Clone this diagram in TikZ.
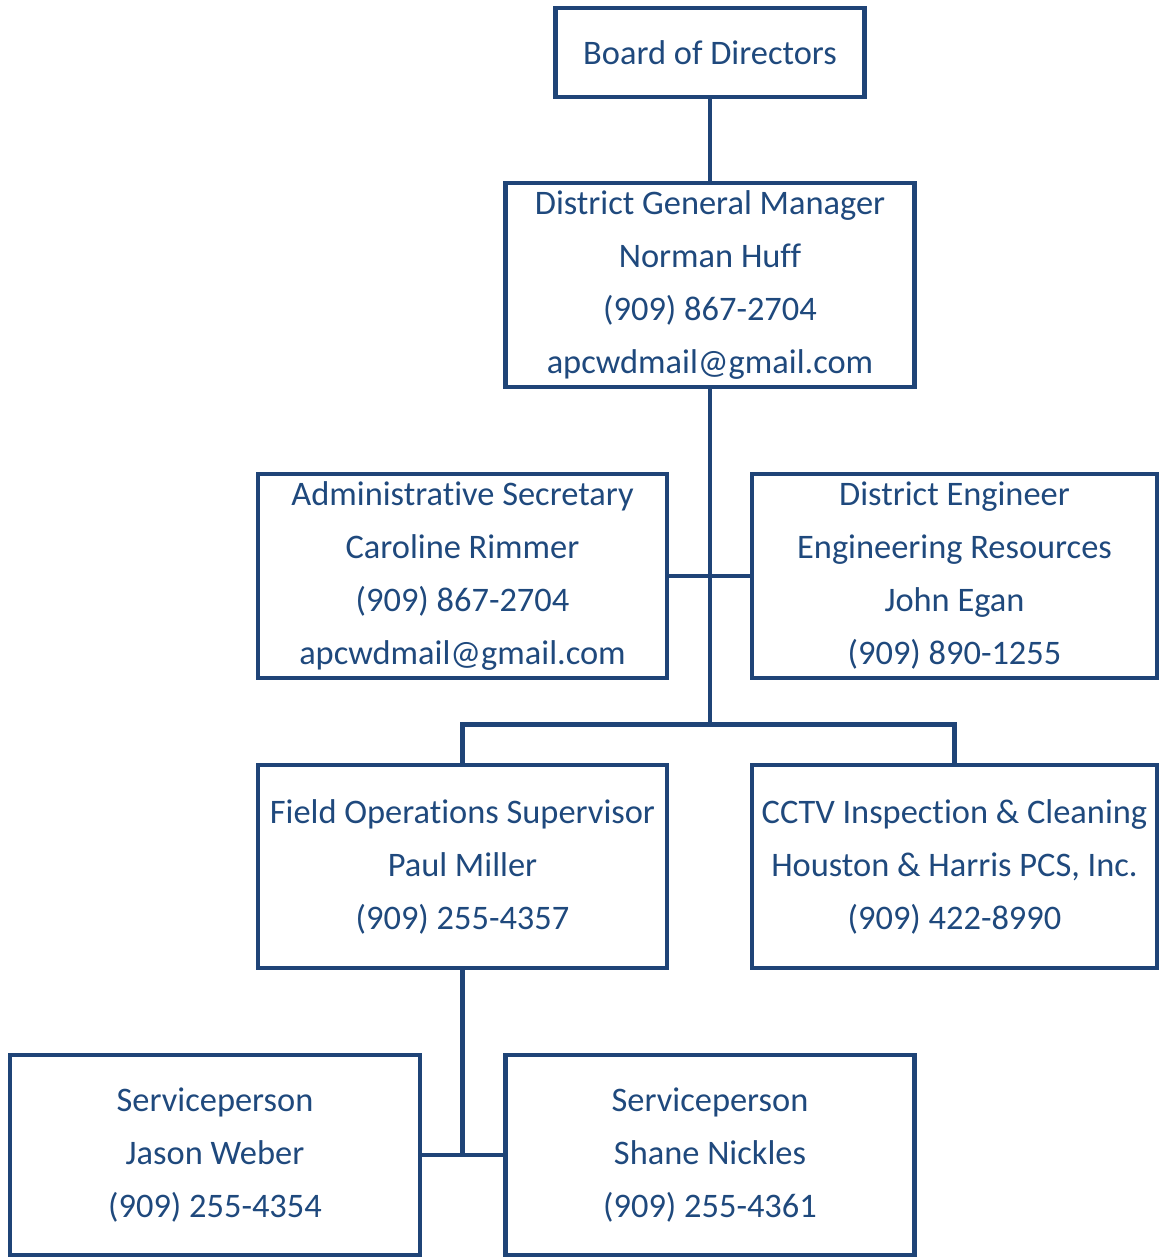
\documentclass[tikz,border=0pt]{standalone}
\usepackage{fontspec}
\setmainfont{Carlito}[Ligatures={NoCommon,NoRare}]
\usepackage{tikz}
\usepackage{xcolor}
\definecolor{orgline}{RGB}{31,68,119}
\definecolor{orgtext}{RGB}{31,73,125}
\tikzset{every picture/.style={line width=0.75pt}}
\tikzset{
  orgbox/.style={draw=orgline, line width=3.4pt, fill=white, align=center,
    text=orgtext, inner sep=0pt, font=\fontsize{25.8}{39.75}\selectfont},
  link/.style={draw=orgline, line width=3.6pt}
}

\begin{document}
\begin{tikzpicture}[x=0.75pt,y=0.75pt,yscale=-1,xscale=1]
\useasboundingbox (0,0) rectangle (1160,1258);

% Boxes
\node [orgbox, minimum width=309*0.75pt, minimum height=89*0.75pt] (board) at (710,52.5) {Board of Directors};
\node [orgbox, minimum width=409*0.75pt, minimum height=204*0.75pt] (dgm) at (710,285) {District General Manager\\Norman Huff\\(909) 867-2704\\apcwdmail@gmail.com};
\node [orgbox, minimum width=409*0.75pt, minimum height=204*0.75pt] (admin) at (462.5,576) {Administrative Secretary\\Caroline Rimmer\\(909) 867-2704\\apcwdmail@gmail.com};
\node [orgbox, minimum width=405*0.75pt, minimum height=204*0.75pt] (eng) at (954.5,576) {District Engineer\\Engineering Resources\\John Egan\\(909) 890-1255};
\node [orgbox, minimum width=409*0.75pt, minimum height=203*0.75pt] (field) at (462.5,866.5) {Field Operations Supervisor\\Paul Miller\\(909) 255-4357};
\node [orgbox, minimum width=405*0.75pt, minimum height=203*0.75pt] (cctv) at (954.5,866.5) {CCTV Inspection \& Cleaning\\Houston \& Harris PCS, Inc.\\(909) 422-8990};
\node [orgbox, minimum width=410*0.75pt, minimum height=200*0.75pt] (servA) at (215,1155) {Serviceperson\\Jason Weber\\(909) 255-4354};
\node [orgbox, minimum width=409*0.75pt, minimum height=200*0.75pt] (servB) at (710,1155) {Serviceperson\\Shane Nickles\\(909) 255-4361};

% Connectors
\path (dgm.south) ++(0,335) coordinate (split);
\draw [link] (board) -- (dgm);
\draw [link] (dgm.south) -- (split);
\draw [link] (admin.east) -- (eng.west);
\draw [link] (field.north) |- (split) -| (cctv.north);
\draw [link] (field.south) -- (field.south |- servA.east);
\draw [link] (servA.east) -- (servB.west);

\end{tikzpicture}
\end{document}
